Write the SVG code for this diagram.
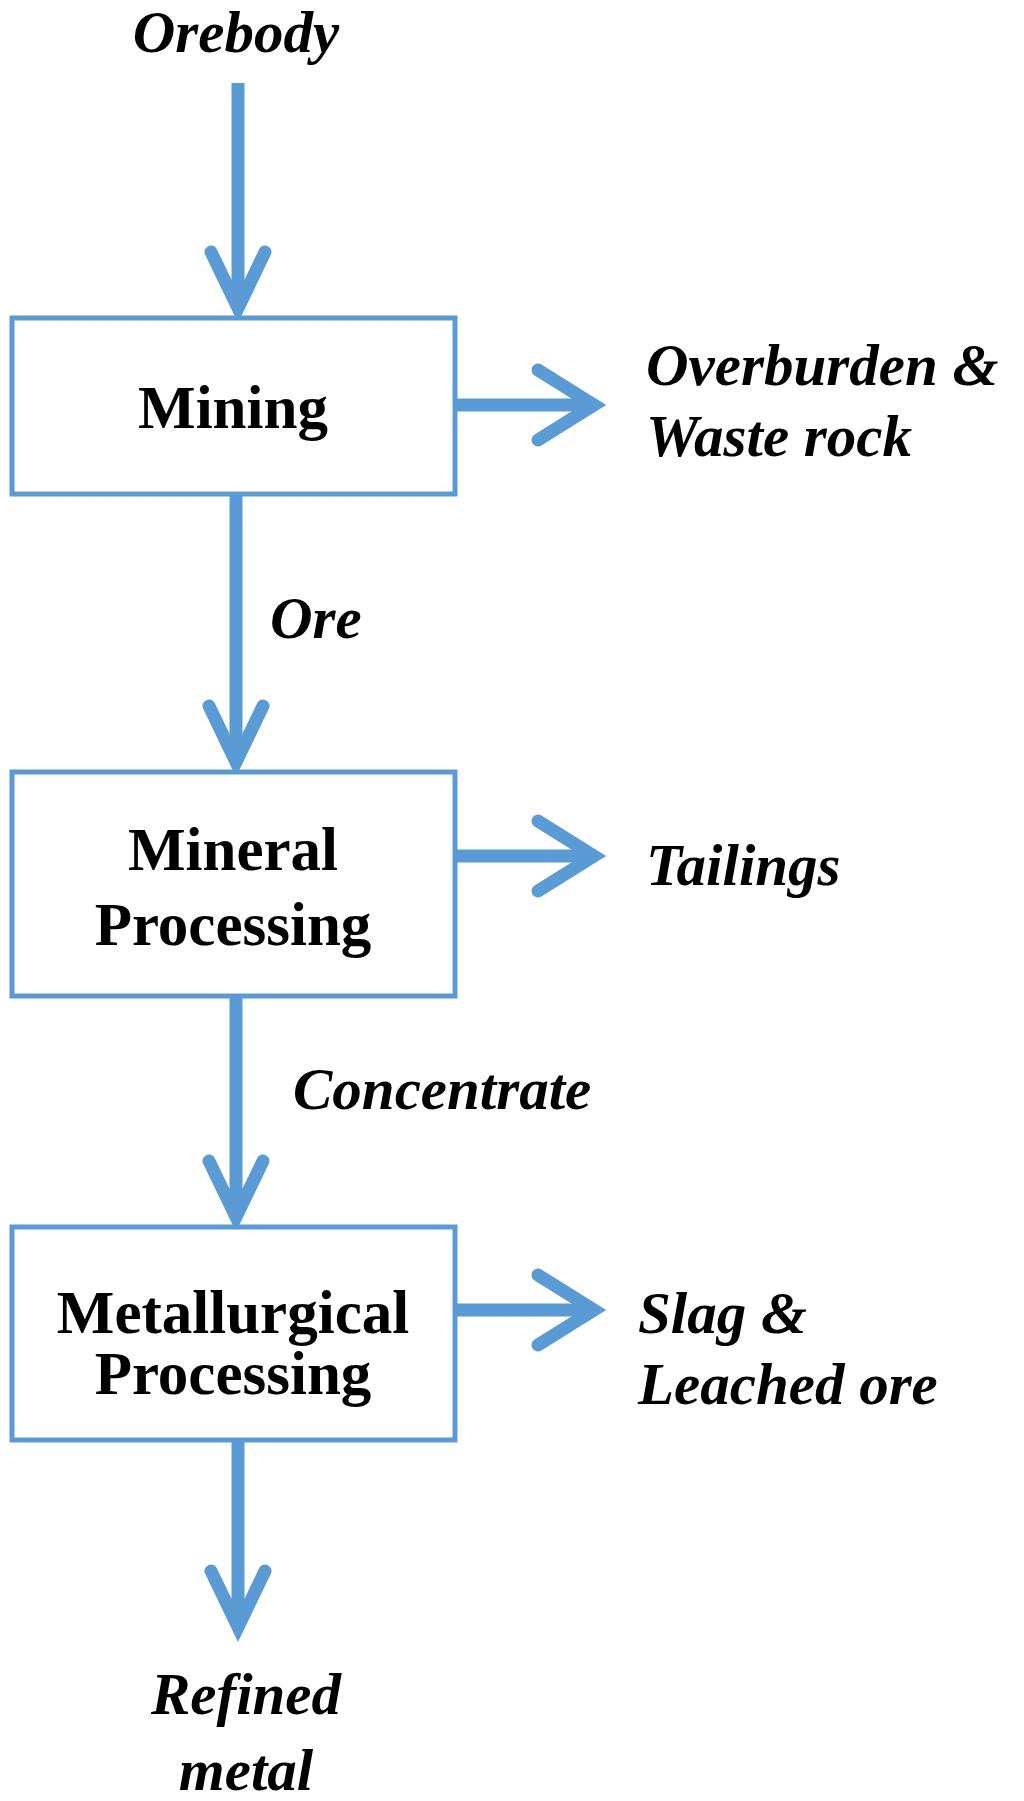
<svg xmlns="http://www.w3.org/2000/svg" width="1024" height="1801" viewBox="0 0 1024 1801">
<style>
.box{fill:#fff;stroke:#5B9BD5;stroke-width:5}
.ln{stroke:#5B9BD5;stroke-width:13;fill:none}
.hd{stroke:#5B9BD5;stroke-width:13;fill:none;stroke-linecap:round;stroke-linejoin:miter;stroke-miterlimit:10}
.t{font-family:"Liberation Serif",serif;font-weight:bold;font-size:61px;text-anchor:middle;fill:#000}
.l{font-family:"Liberation Serif",serif;font-weight:bold;font-style:italic;font-size:59px;fill:#000}
</style>
<rect width="1024" height="1801" fill="#fff"/>
<g id="connectors">
<line class="ln" x1="238" y1="83" x2="238" y2="305"/>
<path class="hd" d="M211 252 L238 308 L265 252"/>
<line class="ln" x1="236" y1="494" x2="236" y2="760"/>
<path class="hd" d="M209 706 L236 762 L263 706"/>
<line class="ln" x1="236" y1="996" x2="236" y2="1215"/>
<path class="hd" d="M209 1161 L236 1217 L263 1161"/>
<line class="ln" x1="238" y1="1440" x2="238" y2="1625"/>
<path class="hd" d="M211 1571 L238 1627 L265 1571"/>
<line class="ln" x1="456" y1="405" x2="592" y2="405"/>
<path class="hd" d="M538 370 L594 405 L538 440"/>
<line class="ln" x1="456" y1="856" x2="592" y2="856"/>
<path class="hd" d="M538 821 L594 856 L538 891"/>
<line class="ln" x1="456" y1="1310" x2="592" y2="1310"/>
<path class="hd" d="M538 1275 L594 1310 L538 1345"/>
</g>
<g id="orebody"><text class="l" x="236" y="52" text-anchor="middle">Orebody</text></g>
<g id="mining"><rect class="box" x="12" y="318" width="443" height="176"/><text class="t" x="233" y="428">Mining</text></g>
<g id="waste"><text class="l" x="646" y="385">Overburden &amp;</text><text class="l" x="646" y="456">Waste rock</text></g>
<g id="ore"><text class="l" x="270" y="638">Ore</text></g>
<g id="mineral"><rect class="box" x="12" y="772" width="443" height="224"/><text class="t" x="233" y="870">Mineral</text><text class="t" x="233" y="945">Processing</text></g>
<g id="tailings"><text class="l" x="646" y="885">Tailings</text></g>
<g id="concentrate"><text class="l" x="293" y="1109">Concentrate</text></g>
<g id="metallurgical"><rect class="box" x="12" y="1227" width="443" height="213"/><text class="t" x="233" y="1333">Metallurgical</text><text class="t" x="233" y="1394">Processing</text></g>
<g id="slag"><text class="l" x="638" y="1333">Slag &amp;</text><text class="l" x="638" y="1404">Leached ore</text></g>
<g id="refined"><text class="l" x="246" y="1714" text-anchor="middle">Refined</text><text class="l" x="246" y="1790" text-anchor="middle">metal</text></g>
</svg>
